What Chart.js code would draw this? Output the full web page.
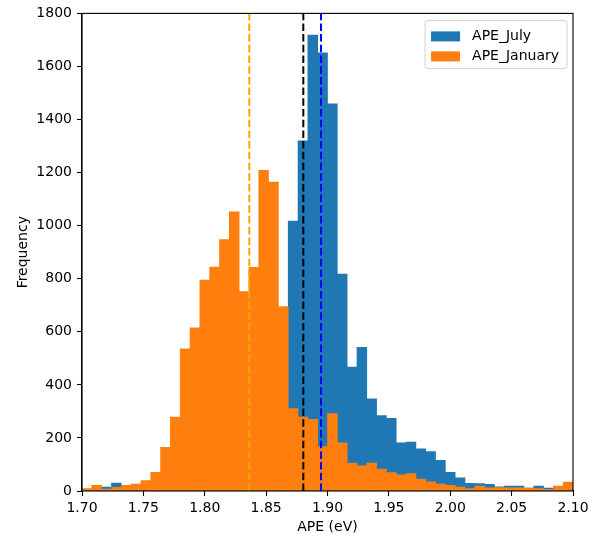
<!DOCTYPE html>
<html>
<head>
<meta charset="utf-8">
<script src="https://cdn.jsdelivr.net/npm/chart.js@4.4.1/dist/chart.umd.min.js"></script>
<style>
  html, body { margin: 0; padding: 0; background: #fff; }
  #wrap { width: 603px; height: 538px; position: relative; }
</style>
</head>
<body>
<div id="wrap"><canvas id="c" width="603" height="538"></canvas></div>
<script>
// ---- data ----
const binCenters = [
  1.704, 1.712, 1.720, 1.728, 1.736, 1.744, 1.752, 1.760, 1.768, 1.776,
  1.784, 1.792, 1.800, 1.808, 1.816, 1.824, 1.832, 1.840, 1.848, 1.856,
  1.864, 1.872, 1.880, 1.888, 1.896, 1.904, 1.912, 1.920, 1.928, 1.936,
  1.944, 1.952, 1.960, 1.968, 1.976, 1.984, 1.992, 2.000, 2.008, 2.016,
  2.024, 2.032, 2.040, 2.048, 2.056, 2.064, 2.072, 2.080, 2.088, 2.096
];
const apeJuly = [
  4, 6, 15, 30, 8, 10, 12, 20, 30, 45,
  60, 80, 100, 130, 160, 200, 250, 320, 420, 520,
  640, 1017, 1320, 1718, 1651, 1459, 818, 467, 541, 347,
  284, 274, 182, 184, 159, 149, 116, 70, 50, 29,
  28, 25, 16, 19, 19, 8, 19, 11, 8, 6
];
const apeJanuary = [
  9, 21, 7, 14, 21, 26, 39, 70, 165, 279,
  536, 615, 795, 844, 948, 1052, 752, 843, 1209, 1164,
  695, 311, 279, 270, 167, 292, 182, 105, 95, 105,
  83, 69, 61, 66, 45, 35, 26, 21, 15, 9,
  19, 12, 13, 12, 12, 12, 9, 6, 19, 34
];
const seriesLabels = ['APE_July', 'APE_January'];
const meanJanuary = 1.8363;
const meanAll = 1.8803;
const meanJuly = 1.8947;
const xTicks = [1.70, 1.75, 1.80, 1.85, 1.90, 1.95, 2.00, 2.05, 2.10];
const yTicks = [0, 200, 400, 600, 800, 1000, 1200, 1400, 1600, 1800];

// ---- chart ----
const FONT = "'DejaVu Sans', sans-serif";
const toXY = (vals) => vals.map((v, i) => ({ x: binCenters[i], y: v }));
const vline = (x, color, label) => ({
  type: 'line', label: label,
  data: [{ x: x, y: yTicks[0] }, { x: x, y: yTicks[yTicks.length - 1] }],
  borderColor: color, borderWidth: 2, borderDash: [7.5, 3.2],
  pointRadius: 0, fill: false, order: 0, isMarker: true
});

const framePlugin = {
  id: 'frame',
  afterDatasetsDraw(chart) {
    const a = chart.chartArea, ctx = chart.ctx;
    ctx.save();
    ctx.strokeStyle = '#000';
    ctx.lineWidth = 1.1;
    ctx.strokeRect(a.left, a.top, a.right - a.left, a.bottom - a.top);
    ctx.restore();
  }
};

const legendPlugin = {
  id: 'mplLegend',
  afterDraw(chart) {
    const ctx = chart.ctx, a = chart.chartArea;
    const items = chart.data.datasets.filter(d => !d.isMarker);
    ctx.save();
    ctx.font = '14px ' + FONT;
    const textW = Math.max(...items.map(d => ctx.measureText(d.label).width));
    const pad = 6, handleW = 29, gap = 12, rowH = 20;
    const boxW = pad + handleW + gap + textW + pad + 2;
    const boxH = pad + rowH * items.length + 2;
    const bx = a.right - 6 - boxW, by = a.top + 7;
    ctx.beginPath();
    if (ctx.roundRect) ctx.roundRect(bx, by, boxW, boxH, 3); else ctx.rect(bx, by, boxW, boxH);
    ctx.fillStyle = 'rgba(255,255,255,0.8)';
    ctx.fill();
    ctx.strokeStyle = '#d0d0d0';
    ctx.lineWidth = 1;
    ctx.stroke();
    items.forEach((d, i) => {
      const cy = by + pad + 5 + i * rowH + 5;
      ctx.fillStyle = d.backgroundColor;
      ctx.fillRect(bx + pad, cy - 5, handleW, 10);
      ctx.fillStyle = '#000';
      ctx.textBaseline = 'middle';
      ctx.textAlign = 'left';
      ctx.fillText(d.label, bx + pad + handleW + gap, cy);
    });
    ctx.restore();
  }
};

new Chart(document.getElementById('c'), {
  type: 'bar',
  data: {
    datasets: [
      { label: seriesLabels[0], data: toXY(apeJuly), backgroundColor: '#1f77b4',
        borderWidth: 0, barPercentage: 1, categoryPercentage: 1, grouped: false, order: 2 },
      { label: seriesLabels[1], data: toXY(apeJanuary), backgroundColor: '#ff7f0e',
        borderWidth: 0, barPercentage: 1, categoryPercentage: 1, grouped: false, order: 1 },
      vline(meanJanuary, '#FFA500', 'meanJan'),
      vline(meanAll, '#000000', 'meanAll'),
      vline(meanJuly, '#0000FF', 'meanJul')
    ]
  },
  options: {
    responsive: false,
    animation: false,
    events: [],
    layout: { padding: { left: 0, right: 30, top: 12, bottom: 0 } },
    plugins: { legend: { display: false }, tooltip: { enabled: false } },
    scales: {
      x: {
        type: 'linear', min: xTicks[0], max: xTicks[xTicks.length - 1], offset: false,
        afterBuildTicks(s) { s.ticks = xTicks.map(v => ({ value: v })); },
        afterFit(s) { s.height = 47; },
        grid: { display: true, drawOnChartArea: false, drawTicks: true, tickLength: 5,
                color: '#000', offset: false, tickWidth: 1.1 },
        border: { display: true, color: '#000', width: 1.1 },
        ticks: { color: '#000', font: { family: FONT, size: 14 }, padding: 4,
                 maxRotation: 0, autoSkip: false, callback: v => Number(v).toFixed(2) },
        title: { display: true, text: 'APE (eV)', color: '#000',
                 font: { family: FONT, size: 14 }, padding: { top: 0, bottom: 2 } }
      },
      y: {
        type: 'linear', min: yTicks[0], max: yTicks[yTicks.length - 1],
        afterBuildTicks(s) { s.ticks = yTicks.map(v => ({ value: v })); },
        afterFit(s) { s.width = 82; },
        grid: { display: true, drawOnChartArea: false, drawTicks: true, tickLength: 5,
                color: '#000', tickWidth: 1.1 },
        border: { display: true, color: '#000', width: 1.1 },
        ticks: { color: '#000', font: { family: FONT, size: 14 }, padding: 5,
                 autoSkip: false, callback: v => String(v) },
        title: { display: true, text: 'Frequency', color: '#000',
                 font: { family: FONT, size: 14 }, padding: { top: 15, bottom: 0 } }
      }
    }
  },
  plugins: [framePlugin, legendPlugin]
});
</script>
</body>
</html>
